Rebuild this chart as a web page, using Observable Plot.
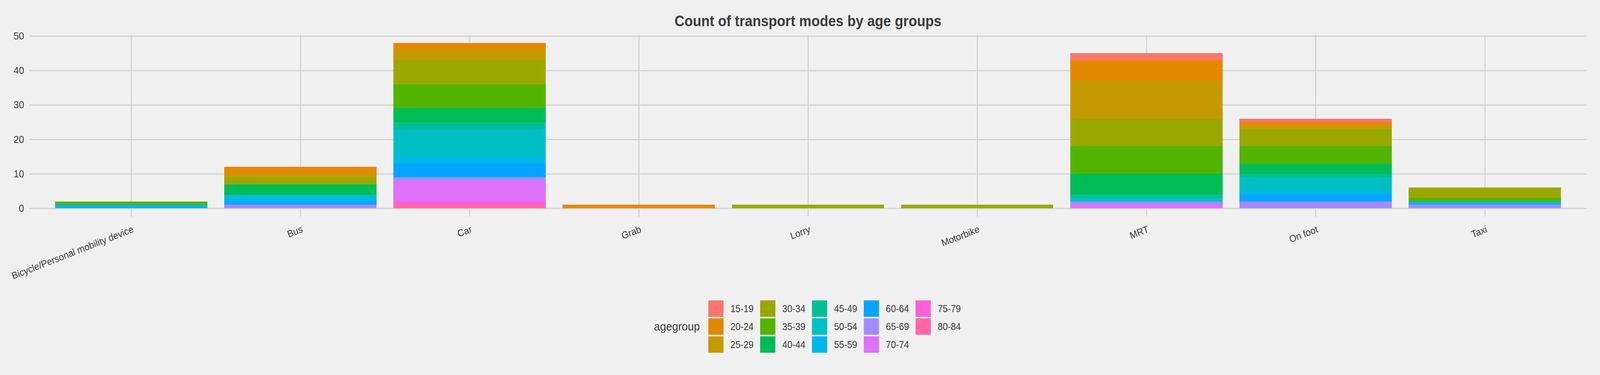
<!DOCTYPE html>
<html>
<head>
<meta charset="utf-8">
<script src="https://cdn.jsdelivr.net/npm/d3@7"></script>
<script src="https://cdn.jsdelivr.net/npm/@observablehq/plot@0.6"></script>
<style>
  html, body { margin: 0; padding: 0; background: #f0f0f0; overflow: hidden; }
  #page { width: 4416px; height: 960px; position: relative; transform-origin: 0 0;
          font-family: "Liberation Sans", Arial, sans-serif; color: #3c3c3c; background: #f0f0f0; }
  #title { position: absolute; left: 80px; width: 4300px; top: 35px; text-align: center;
           font-size: 38px; line-height: 38px; font-weight: bold; color: #3c3c3c; }
  #chart { position: absolute; left: 0; top: 60px; }
  #legend { position: absolute; left: 1805px; top: 769px; display: flex; align-items: center; }
  #legend .ltitle { font-size: 30px; width: 150px; }
  #legend .grid { display: grid; grid-template-rows: repeat(3, 42px); row-gap: 4px;
                  grid-auto-flow: column; grid-auto-columns: 143px; }
  #legend .item { display: flex; align-items: center; }
  #legend .key { width: 42px; height: 42px; }
  #legend .lab { margin-left: 19px; font-size: 25px; line-height: 42px; }
</style>
</head>
<body>
<div id="page">
<div id="chart"></div>
<div id="title">Count of transport modes by age groups</div>
<div id="legend"></div>
</div>
<script>
// Categories
const modes = ["Bicycle/Personal mobility device", "Bus", "Car", "Grab", "Lorry", "Motorbike", "MRT", "On foot", "Taxi"];
const ages = ["15-19", "20-24", "25-29", "30-34", "35-39", "40-44", "45-49", "50-54", "55-59", "60-64", "65-69", "70-74", "75-79", "80-84"];
const ageColors = ["#F8766D", "#E38900", "#C49A00", "#99A800", "#53B400", "#00BC56", "#00C094", "#00BFC4", "#00B6EB", "#06A4FF", "#A58AFF", "#DF70F8", "#FB61D7", "#FF66A8"];

// Counts per mode, aligned with ages
const bicycle   = [0, 0, 0, 0, 1, 0, 0, 0, 1, 0, 0, 0, 0, 0];
const bus       = [0, 2, 1, 2, 0, 3, 0, 1, 1, 1, 1, 0, 0, 0];
const car       = [0, 2, 3, 7, 7, 4, 2, 8, 2, 4, 1, 6, 1, 1];
const grab      = [0, 1, 0, 0, 0, 0, 0, 0, 0, 0, 0, 0, 0, 0];
const lorry     = [0, 0, 0, 1, 0, 0, 0, 0, 0, 0, 0, 0, 0, 0];
const motorbike = [0, 0, 0, 1, 0, 0, 0, 0, 0, 0, 0, 0, 0, 0];
const mrt       = [2, 6, 11, 8, 8, 6, 1, 1, 0, 0, 1, 1, 0, 0];
const onFoot    = [1, 1, 1, 5, 5, 3, 1, 4, 1, 2, 2, 0, 0, 0];
const taxi      = [0, 0, 0, 3, 1, 0, 0, 0, 1, 0, 1, 0, 0, 0];

const yTicks = [0, 10, 20, 30, 40, 50];

// Fit the 4416-wide design into the actual window
const page = document.getElementById("page");
const sx = Math.min(1, window.innerWidth / 4416);
const sy = Math.min(1, window.innerHeight / 960);
page.style.transform = `scale(${sx}, ${sy})`;

const series = [bicycle, bus, car, grab, lorry, motorbike, mrt, onFoot, taxi];
const table = [];
modes.forEach((m, mi) => {
  for (let ai = ages.length - 1; ai >= 0; ai--) {
    const v = series[mi][ai];
    if (v > 0) table.push({mode: m, age: ages[ai], count: v});
  }
});

const grid = "#d2d2d2";
const chart = Plot.plot({
  width: 4416,
  height: 660,
  marginTop: 28.5,
  marginBottom: 165.5,
  marginLeft: 80,
  marginRight: 36,
  style: {background: "transparent", fontFamily: "'Liberation Sans', Arial, sans-serif", fontSize: "26px", color: "#3c3c3c", maxWidth: "none"},
  x: {domain: modes, paddingInner: 0.1, paddingOuter: 0.149, label: null},
  y: {domain: [-2.4, 50.4], label: null},
  color: {domain: ages, range: ageColors},
  marks: [
    Plot.gridX({stroke: grid, strokeOpacity: 1, strokeWidth: 3}),
    Plot.gridY({ticks: yTicks, stroke: grid, strokeOpacity: 1, strokeWidth: 3}),
    Plot.barY(table, {x: "mode", y: "count", fill: "age", shapeRendering: "crispEdges"}),
    Plot.axisY({ticks: yTicks, tickSize: 0, tickPadding: 14, fontSize: 26, label: null, tickFormat: d => String(d)}),
    Plot.axisX({tickSize: 0, tickRotate: -20, tickPadding: 31, dx: 5, fontSize: 25, label: null})
  ]
});
document.getElementById("chart").appendChild(chart);

// Legend
const leg = document.getElementById("legend");
const lt = document.createElement("div");
lt.className = "ltitle";
lt.textContent = "agegroup";
leg.appendChild(lt);
const g = document.createElement("div");
g.className = "grid";
ages.forEach((a, i) => {
  const it = document.createElement("div");
  it.className = "item";
  const k = document.createElement("div");
  k.className = "key";
  k.style.background = ageColors[i];
  const l = document.createElement("span");
  l.className = "lab";
  l.textContent = a;
  it.appendChild(k); it.appendChild(l);
  g.appendChild(it);
});
leg.appendChild(g);
</script>
</body>
</html>
